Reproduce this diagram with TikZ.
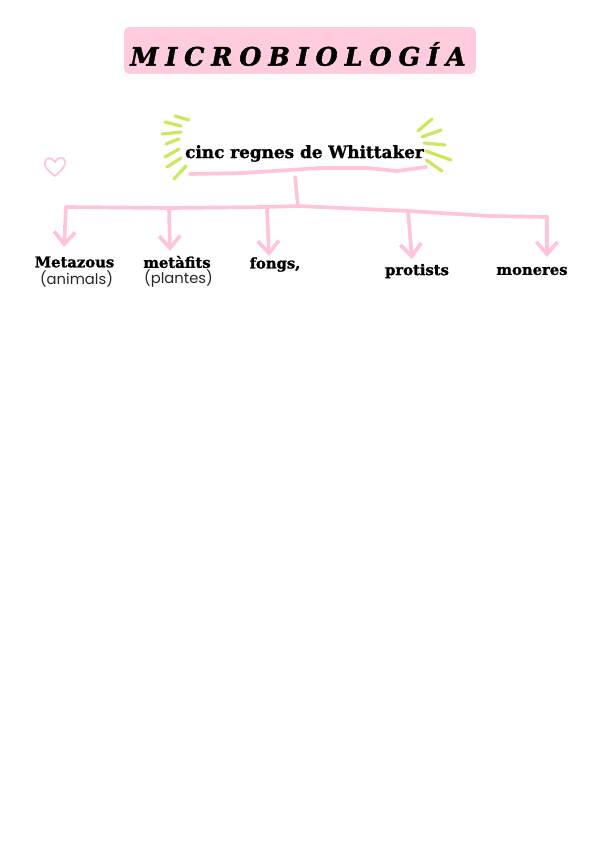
\documentclass[tikz,border=0pt]{standalone}
\usepackage{fontspec}
\setmainfont{Poppins}
\newfontfamily\titlefont[LetterSpace=27,BoldItalicFeatures={FakeBold=1.6}]{DejaVu Serif}
\newfontfamily\headfont[BoldFeatures={FakeBold=1.4}]{DejaVu Serif}
\usetikzlibrary{arrows.meta}
\definecolor{Blush}{HTML}{FFCCDD}
\definecolor{Brush}{HTML}{FFC4D8}
\definecolor{Lime}{HTML}{C9E85C}

\begin{document}
\begin{tikzpicture}[
    x=.02cm,y=-.02cm,
    titlebox/.style={fill=Blush,rounded corners=3pt,minimum width=7.04cm,minimum height=.94cm,inner sep=0pt},
    head/.style={font=\headfont\bfseries\fontsize{9.6}{11}\selectfont,text=black,inner sep=0pt},
    kingdom/.style={font=\headfont\bfseries\fontsize{8.4}{10}\selectfont,text=black,inner sep=0pt},
    plain/.style={font=\fontsize{8.4}{10}\selectfont,text=black!85,inner sep=0pt},
    brush/.style={draw=Brush,line width=2.1pt,line cap=round,line join=round},
    arr/.style={brush,-{Straight Barb[length=7pt,width=12pt,line width=2.1pt]}},
    ray/.style={draw=Lime,line width=1.8pt,line cap=round}
  ]
    \useasboundingbox (0,0) rectangle (600,848);
    \node[titlebox] (titlebg) at (300,50.5) {};
    \node[font=\titlefont\bfseries\itshape\fontsize{14.5}{16}\selectfont,inner sep=0pt] (title) at (298,54) {MICROBIOLOGÍA};
    \node[head] (root) at (304.5,153.5) {cinc regnes de Whittaker};
    % labels
    \node[kingdom] (metazous) at (74.5,262) {Metazous};
    \node[plain] (animals) at (76.5,279) {(animals)};
    \node[kingdom] (metafits) at (177,262) {metàfits};
    \node[plain] (plantes) at (178.5,279) {(plantes)};
    \node[kingdom] (fongs) at (275,264.5) {fongs,};
    \node[kingdom] (protists) at (417,271) {protists};
    \node[kingdom] (moneres) at (532,271) {moneres};
    % bar under the title and the bus
    \coordinate (barl) at (190,174);
    \coordinate (barm) at (243,173);
    \coordinate (barc) at (320,168);
    \coordinate (barn) at (367,168);
    \coordinate (baro) at (397,171);
    \coordinate (barr) at (426,167);
    \draw[brush] (barl) -- (barm) -- (barc) -- (barn) -- (baro) -- (barr);
    \coordinate (trunk) at (295,177);
    \coordinate (busa) at (66,207);
    \coordinate (busb) at (169,208);
    \coordinate (busc) at (267,207);
    \coordinate (busm) at (298,206);
    \coordinate (busd) at (408,211);
    \coordinate (buse) at (490,216);
    \coordinate (busf) at (547,217);
    \draw[brush] (trunk) -- (busm);
    \draw[brush] (busa) -- (busb) -- (busc) -- (busm) -- (busd) -- (buse) -- (busf);
    \coordinate (tipa) at (64,247);
    \coordinate (tipb) at (170,251);
    \coordinate (tipc) at (269,256);
    \coordinate (tipd) at (412,259);
    \coordinate (tipe) at (547,257);
    \draw[arr] (busa) -- (tipa);
    \draw[arr] (busb) -- (tipb);
    \draw[arr] (busc) -- (tipc);
    \draw[arr] (busd) -- (tipd);
    \draw[arr] (busf) -- (tipe);
    % rays
    \foreach \xa/\ya/\xb/\yb in {175/116/189/120,165/122/181/126,162/134/181/132,166/144/179/139,165/157/179/149,167/167/181/158,174/179/186/166,418/131/432/119,422/137/441/130,424/143/445/145,426/151/451/160,426/160/442/171}
      \draw[ray] (\xa,\ya) -- (\xb,\yb);
    % heart
    \draw[draw=Brush,line width=1pt,line join=round] (55,176) .. controls (47,170) and (44,166) .. (45,162) .. controls (46,157) and (52,157) .. (55,162) .. controls (57,157) and (64,156) .. (65,161) .. controls (66,166) and (61,171) .. (55,176) -- cycle;
  \end{tikzpicture}
\end{document}
